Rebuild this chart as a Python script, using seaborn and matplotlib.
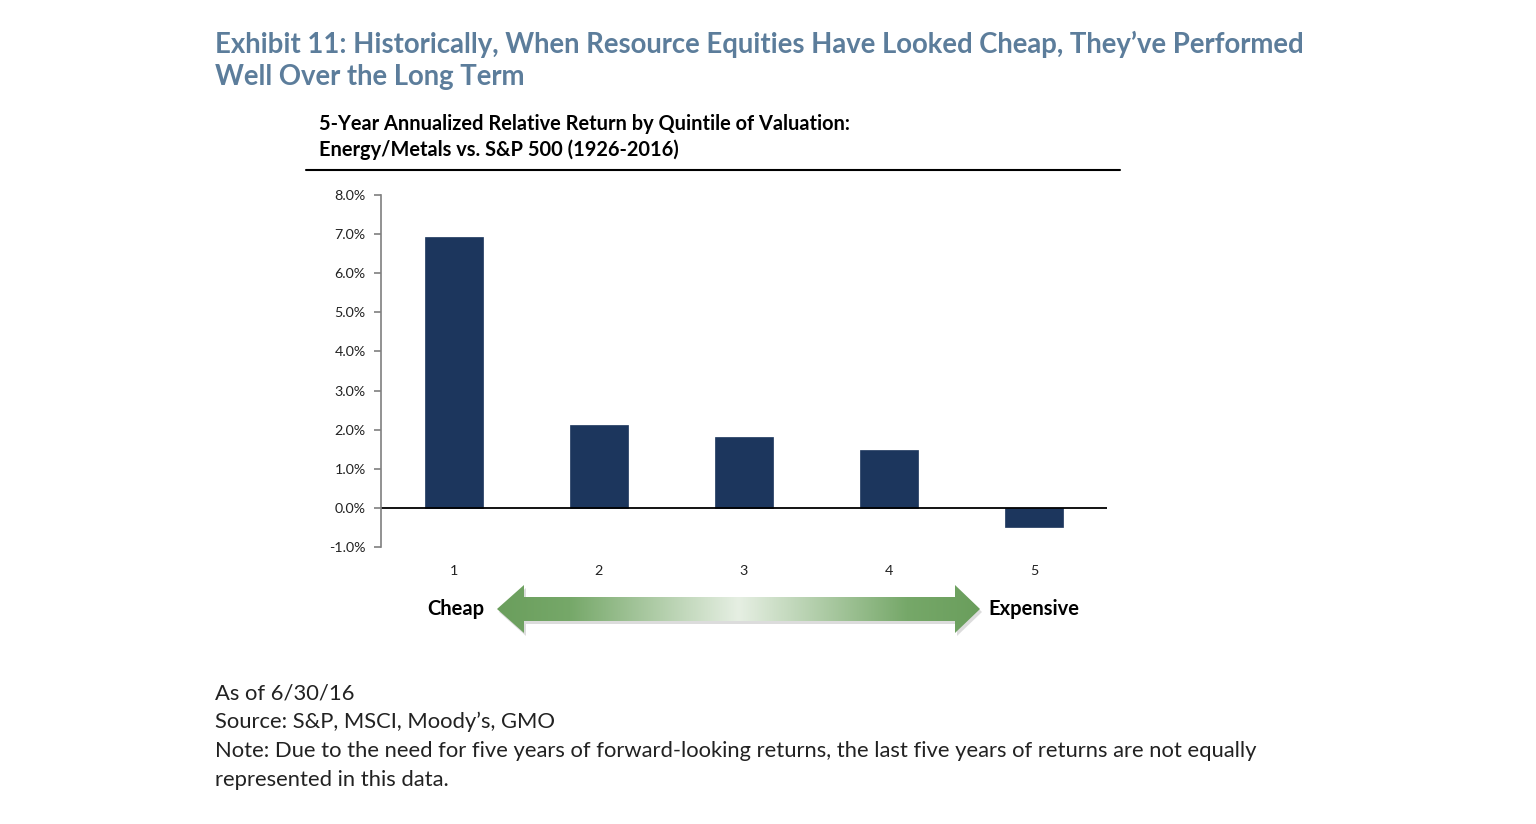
import numpy as np
import pandas as pd
import matplotlib
matplotlib.use("Agg")
import matplotlib.pyplot as plt
import seaborn as sns
from matplotlib.patches import Polygon
from matplotlib.colors import LinearSegmentedColormap

quintiles = ["1", "2", "3", "4", "5"]
returns = [6.92, 2.12, 1.81, 1.48, -0.48]
yticks = [-1, 0, 1, 2, 3, 4, 5, 6, 7, 8]

title_lines = ["Exhibit 11: Historically, When Resource Equities Have Looked Cheap, They\u2019ve Performed",
               "Well Over the Long Term"]
subtitle_lines = ["5-Year Annualized Relative Return by Quintile of Valuation:",
                  "Energy/Metals vs. S&P 500 (1926-2016)"]
footer_lines = ["As of 6/30/16",
                "Source: S&P, MSCI, Moody\u2019s, GMO",
                "Note: Due to the need for five years of forward-looking returns, the last five years of returns are not equally",
                "represented in this data."]

sns.set_theme(style="white")
plt.rcParams['font.family'] = ['Lato', 'DejaVu Sans']

W, H = 1536, 824
fig = plt.figure(figsize=(W / 100, H / 100), dpi=100)

def fy(py):
    return 1 - py / H

def fx(px):
    return px / W

ax = fig.add_axes([fx(381), fy(547), fx(1107) - fx(381), fy(195) - fy(547)])
df = pd.DataFrame({"q": quintiles, "r": returns})
sns.barplot(data=df, x="q", y="r", ax=ax, color="#1c365d", width=0.4,
            saturation=1, edgecolor="#1c365d", linewidth=0.5)
ax.set_xlim(-0.5, len(quintiles) - 0.5)
ax.set_ylim(-1, 8)
ax.set_yticks(yticks)
ax.set_yticklabels([f"{v:.1f}%" for v in yticks], fontsize=10.3, color="#222222")
ax.axhline(0, color="black", lw=1.3)
ax.set_xlabel("")
ax.set_ylabel("")
for s in ["top", "right", "bottom"]:
    ax.spines[s].set_visible(False)
ax.spines["left"].set_color("#7f7f7f")
ax.spines["left"].set_linewidth(1.2)
ax.tick_params(axis="y", left=True, length=5, width=1.2, color="#7f7f7f", pad=6)
ax.tick_params(axis="x", length=0, pad=13, labelsize=10.3, labelcolor="#222222")
ax.grid(False)

# overlay in pixel coordinates
ov = fig.add_axes([0, 0, 1, 1], zorder=-1)
ov.set_xlim(0, W)
ov.set_ylim(H, 0)
ov.axis("off")

ov.text(215, 44, title_lines[0], fontsize=19.8, fontweight="bold", color="#5c7d9b",
        va="center", ha="left")
ov.text(215, 77, title_lines[1], fontsize=19.8, fontweight="bold", color="#5c7d9b",
        va="center", ha="left")
ov.text(319, 124, subtitle_lines[0], fontsize=14.4, fontweight="bold", color="black",
        va="center", ha="left")
ov.text(319, 150, subtitle_lines[1], fontsize=14.4, fontweight="bold", color="black",
        va="center", ha="left")
ov.plot([306, 1120], [170, 170], color="black", lw=1.5)

for i, t in enumerate(footer_lines):
    ov.text(215, 693 + 29 * i, t, fontsize=15.85, color="#222222", va="center", ha="left")

# arrow
def arrow_pts(dx=0, dy=0):
    pts = [(497, 609), (524, 585), (524, 597), (955, 597), (955, 585), (980, 609),
           (955, 633), (955, 621), (524, 621), (524, 633)]
    return [(x + dx, y + dy) for x, y in pts]

shadow = Polygon(arrow_pts(2, 3), closed=True, facecolor="#bbbbbb", edgecolor="none", alpha=0.5)
ov.add_patch(shadow)
arrow = Polygon(arrow_pts(), closed=True, facecolor="none", edgecolor="none")
ov.add_patch(arrow)
cmap = LinearSegmentedColormap.from_list("g", [(0, "#6a9e5c"), (0.15, "#76a869"), (0.5, "#e6efe3"),
                                               (0.85, "#76a869"), (1, "#6a9e5c")])
grad = np.linspace(0, 1, 256).reshape(1, -1)
im = ov.imshow(grad, extent=(497, 980, 633, 585), cmap=cmap, aspect="auto", zorder=2)
im.set_clip_path(arrow)

ov.text(484, 609, "Cheap", fontsize=14.5, fontweight="bold", color="black", va="center", ha="right")
ov.text(988, 609, "Expensive", fontsize=14.5, fontweight="bold", color="black", va="center", ha="left")

fig.savefig("out.png", dpi=100)
